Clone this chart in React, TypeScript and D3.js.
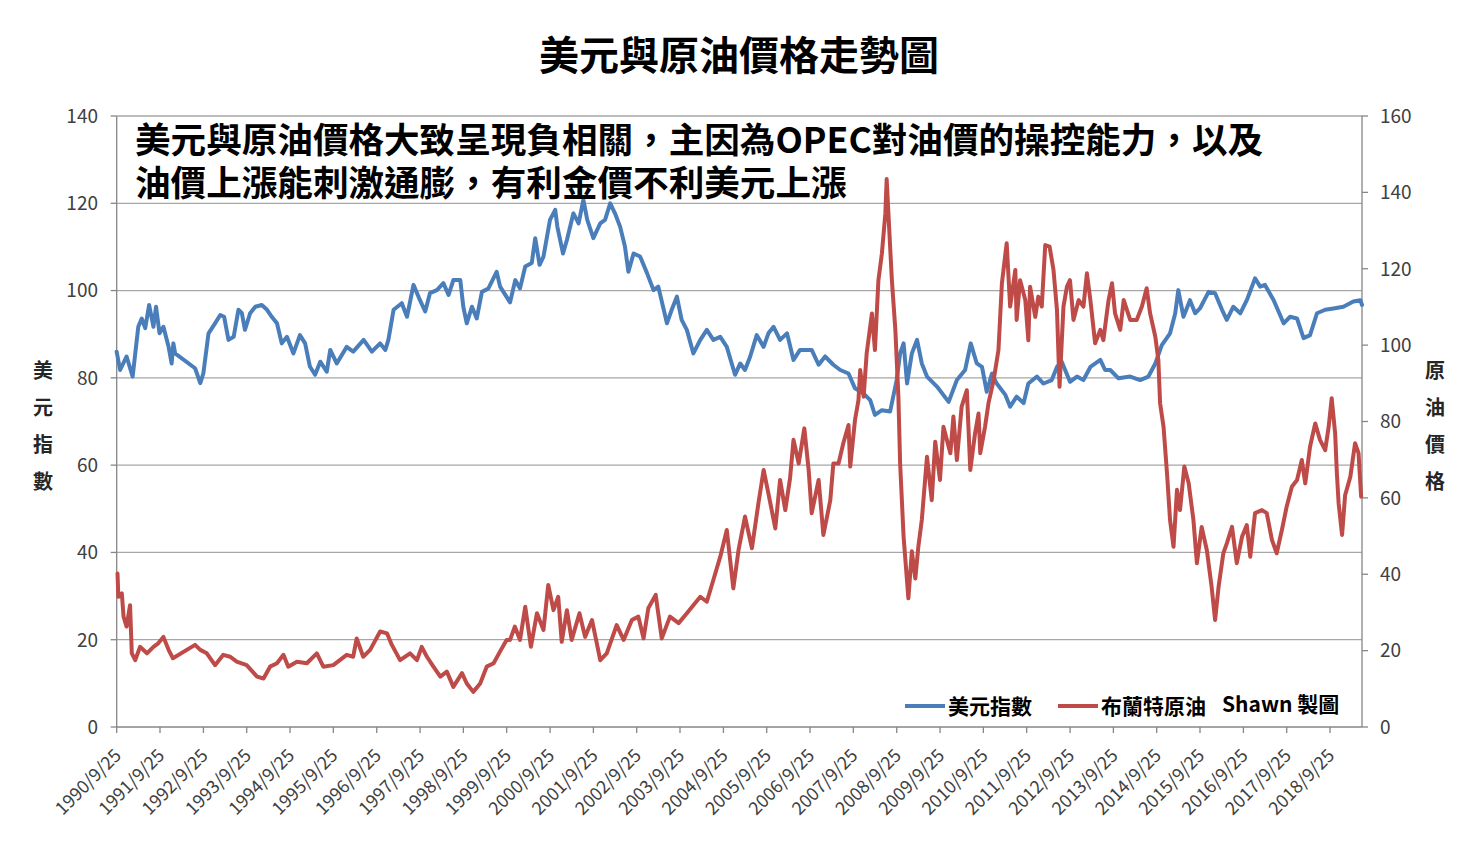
import { useEffect, useRef } from "react";
import * as d3 from "d3";

// 美元指數 (decimal year, value)
const usdYears = [
  1990.73, 1990.81, 1990.96, 1991.1, 1991.23, 1991.31, 1991.39, 1991.48, 1991.58, 1991.64,
  1991.72, 1991.81, 1991.93, 1992.0, 1992.04, 1992.08, 1992.54, 1992.66, 1992.73, 1992.85,
  1993.0, 1993.12, 1993.21, 1993.31, 1993.43, 1993.54, 1993.62, 1993.69, 1993.81, 1993.93,
  1994.08, 1994.2, 1994.31, 1994.43, 1994.54, 1994.66, 1994.81, 1994.96, 1995.08, 1995.19,
  1995.31, 1995.43, 1995.58, 1995.66, 1995.81, 1996.04, 1996.19, 1996.43, 1996.62, 1996.81,
  1996.93, 1997.0, 1997.12, 1997.31, 1997.43, 1997.58, 1997.73, 1997.85, 1997.96, 1998.12,
  1998.27, 1998.39, 1998.5, 1998.66, 1998.73, 1998.81, 1998.93, 1999.04, 1999.16, 1999.31,
  1999.5, 1999.58, 1999.81, 1999.93, 2000.04, 2000.16, 2000.31, 2000.39, 2000.49, 2000.58,
  2000.73, 2000.85, 2000.9, 2001.03, 2001.12, 2001.27, 2001.39, 2001.5, 2001.59, 2001.73,
  2001.89, 2002.0, 2002.12, 2002.23, 2002.35, 2002.46, 2002.54, 2002.66, 2002.81, 2002.97,
  2003.12, 2003.23, 2003.43, 2003.54, 2003.66, 2003.77, 2003.89, 2004.04, 2004.2, 2004.35,
  2004.5, 2004.66, 2004.81, 2005.0, 2005.12, 2005.23, 2005.35, 2005.5, 2005.66, 2005.77,
  2005.89, 2006.04, 2006.2, 2006.35, 2006.5, 2006.77, 2006.93, 2007.08, 2007.27, 2007.43,
  2007.62, 2007.77, 2007.97, 2008.12, 2008.23, 2008.39, 2008.58, 2008.73, 2008.81, 2008.89,
  2008.97, 2009.08, 2009.2, 2009.31, 2009.43, 2009.66, 2009.93, 2010.12, 2010.31, 2010.44,
  2010.58, 2010.7, 2010.81, 2010.93, 2011.04, 2011.24, 2011.35, 2011.5, 2011.66, 2011.77,
  2011.97, 2012.12, 2012.31, 2012.43, 2012.54, 2012.73, 2012.89, 2013.04, 2013.2, 2013.43,
  2013.54, 2013.66, 2013.85, 2014.12, 2014.35, 2014.54, 2014.7, 2014.85, 2015.04, 2015.16,
  2015.23, 2015.35, 2015.5, 2015.62, 2015.73, 2015.93, 2016.08, 2016.24, 2016.35, 2016.5,
  2016.66, 2016.81, 2017.0, 2017.12, 2017.23, 2017.43, 2017.66, 2017.81, 2017.97, 2018.12,
  2018.27, 2018.43, 2018.62, 2018.81, 2019.04, 2019.27, 2019.43, 2019.47,
];
const usdValues = [
  86.0, 81.8, 84.9, 80.3, 91.7, 93.6, 91.4, 96.7, 91.7, 96.3,
  90.2, 91.7, 87.1, 83.3, 87.9, 85.6, 82.2, 78.8, 81.0, 90.2,
  92.5, 94.4, 94.0, 88.7, 89.4, 95.6, 94.8, 91.0, 94.8, 96.3,
  96.7, 95.6, 94.0, 92.5, 87.9, 89.4, 85.6, 89.8, 87.9, 82.6,
  80.7, 83.7, 81.4, 86.4, 83.3, 87.1, 86.0, 88.7, 86.0, 87.9,
  86.4, 88.7, 95.6, 97.1, 94.0, 101.3, 97.8, 95.2, 99.4, 100.1,
  101.7, 99.0, 102.4, 102.4, 96.3, 92.5, 96.3, 93.6, 99.7, 100.5,
  104.3, 100.9, 97.3, 102.4, 100.5, 105.5, 106.3, 112.0, 105.9, 107.8,
  116.2, 118.5, 114.6, 108.5, 111.6, 117.7, 115.4, 120.8, 116.2, 112.0,
  115.4, 116.2, 120.0, 117.7, 114.6, 110.1, 104.3, 108.5, 107.8, 104.0,
  100.1, 100.9, 92.5, 95.6, 98.6, 93.3, 91.0, 85.6, 88.7, 91.0,
  88.7, 89.4, 87.1, 80.7, 83.3, 81.8, 84.9, 89.8, 87.1, 90.2,
  91.7, 88.7, 90.2, 84.1, 86.4, 86.4, 83.0, 84.9, 83.0, 81.8,
  81.0, 77.6, 76.4, 74.9, 71.5, 72.6, 72.3, 79.5, 85.6, 87.9,
  78.7, 85.6, 88.7, 83.3, 80.3, 78.0, 74.5, 79.5, 81.8, 87.9,
  83.3, 82.5, 76.8, 81.0, 78.7, 76.1, 73.4, 75.7, 74.2, 78.7,
  80.3, 78.7, 79.5, 82.5, 83.7, 79.1, 80.3, 79.5, 82.5, 84.1,
  81.8, 81.8, 79.9, 80.3, 79.5, 80.3, 83.3, 87.5, 90.2, 94.8,
  100.1, 94.0, 97.8, 94.8, 95.9, 99.7, 99.4, 95.6, 93.3, 96.3,
  94.8, 97.8, 102.8, 100.9, 101.3, 97.8, 92.5, 94.0, 93.6, 89.1,
  89.8, 94.8, 95.6, 95.9, 96.3, 97.5, 97.8, 96.7,
];

// 布蘭特原油 (decimal year, value)
const oilYears = [
  1990.75, 1990.77, 1990.85, 1990.89, 1990.96, 1991.04, 1991.08, 1991.16, 1991.27, 1991.43,
  1991.58, 1991.69, 1991.81, 1991.93, 1992.03, 1992.54, 1992.66, 1992.81, 1993.0, 1993.19,
  1993.35, 1993.5, 1993.73, 1993.97, 1994.12, 1994.27, 1994.43, 1994.58, 1994.69, 1994.89,
  1995.12, 1995.35, 1995.5, 1995.73, 1996.04, 1996.19, 1996.27, 1996.42, 1996.58, 1996.81,
  1996.97, 1997.08, 1997.27, 1997.5, 1997.66, 1997.77, 1997.89, 1998.04, 1998.2, 1998.35,
  1998.5, 1998.7, 1998.81, 1998.96, 1999.12, 1999.27, 1999.43, 1999.58, 1999.73, 1999.81,
  1999.92, 2000.04, 2000.16, 2000.29, 2000.43, 2000.58, 2000.69, 2000.81, 2000.92, 2001.0,
  2001.12, 2001.23, 2001.41, 2001.54, 2001.7, 2001.89, 2002.04, 2002.27, 2002.43, 2002.62,
  2002.77, 2002.89, 2003.0, 2003.17, 2003.31, 2003.5, 2003.7, 2003.89, 2004.04, 2004.2,
  2004.35, 2004.5, 2004.66, 2004.81, 2004.96, 2005.08, 2005.23, 2005.39, 2005.54, 2005.66,
  2005.77, 2005.93, 2006.04, 2006.16, 2006.27, 2006.35, 2006.47, 2006.6, 2006.7, 2006.77,
  2006.93, 2007.04, 2007.2, 2007.27, 2007.39, 2007.5, 2007.62, 2007.66, 2007.77, 2007.85,
  2007.89, 2007.97, 2008.04, 2008.16, 2008.23, 2008.31, 2008.39, 2008.47, 2008.5, 2008.56,
  2008.62, 2008.7, 2008.77, 2008.81, 2008.89, 2009.0, 2009.08, 2009.16, 2009.23, 2009.31,
  2009.43, 2009.54, 2009.62, 2009.73, 2009.81, 2009.97, 2010.04, 2010.12, 2010.23, 2010.35,
  2010.43, 2010.54, 2010.62, 2010.66, 2010.77, 2010.85, 2010.97, 2011.08, 2011.16, 2011.27,
  2011.35, 2011.47, 2011.5, 2011.58, 2011.7, 2011.77, 2011.81, 2011.93, 2012.0, 2012.08,
  2012.16, 2012.26, 2012.35, 2012.43, 2012.49, 2012.58, 2012.66, 2012.73, 2012.81, 2012.93,
  2013.04, 2013.12, 2013.2, 2013.31, 2013.43, 2013.5, 2013.62, 2013.7, 2013.77, 2013.89,
  2013.97, 2014.12, 2014.27, 2014.39, 2014.5, 2014.58, 2014.7, 2014.77, 2014.81, 2014.89,
  2014.97, 2015.04, 2015.12, 2015.2, 2015.27, 2015.37, 2015.47, 2015.58, 2015.66, 2015.77,
  2015.89, 2016.0, 2016.08, 2016.16, 2016.27, 2016.35, 2016.47, 2016.58, 2016.7, 2016.81,
  2016.89, 2017.0, 2017.16, 2017.27, 2017.39, 2017.5, 2017.62, 2017.73, 2017.85, 2017.97,
  2018.08, 2018.16, 2018.27, 2018.39, 2018.5, 2018.62, 2018.7, 2018.77, 2018.85, 2018.89,
  2018.93, 2019.01, 2019.08, 2019.2, 2019.31, 2019.39, 2019.45,
];
const oilValues = [
  40.2, 34.1, 35.0, 28.9, 26.3, 31.9, 19.3, 17.5, 21.0, 19.3,
  21.0, 21.9, 23.6, 20.2, 18.0, 21.5, 20.2, 19.3, 16.2, 18.9,
  18.4, 17.1, 16.2, 13.2, 12.7, 15.8, 16.7, 18.9, 15.8, 17.1,
  16.7, 19.3, 15.8, 16.2, 18.9, 18.4, 23.2, 18.4, 20.2, 25.0,
  24.5, 21.5, 17.5, 19.3, 17.5, 21.0, 18.4, 15.8, 13.2, 14.5,
  10.5, 14.1, 11.4, 9.2, 11.4, 15.8, 16.7, 19.8, 22.8, 22.8,
  26.3, 22.8, 31.5, 21.0, 29.8, 25.4, 37.2, 30.6, 34.1, 22.3,
  30.6, 22.8, 29.8, 23.6, 28.0, 17.5, 19.3, 26.7, 22.8, 28.0,
  28.9, 23.2, 31.1, 34.6, 23.2, 28.9, 27.2, 29.8, 31.9, 34.1,
  32.8, 38.5, 44.6, 51.6, 36.3, 46.3, 55.1, 46.8, 58.6, 67.3,
  61.2, 52.0, 64.7, 56.8, 65.1, 75.2, 69.0, 78.2, 67.3, 56.0,
  64.7, 50.3, 59.4, 69.0, 69.0, 74.3, 79.1, 68.2, 80.4, 85.6,
  93.5, 86.5, 97.9, 108.3, 98.7, 117.0, 124.0, 134.5, 143.5, 130.1,
  117.0, 104.0, 86.5, 69.0, 49.8, 33.7, 46.0, 38.9, 47.2, 54.2,
  70.8, 59.4, 74.7, 64.7, 78.6, 71.7, 81.3, 69.9, 83.9, 88.2,
  67.3, 76.9, 82.1, 71.7, 78.6, 84.8, 90.9, 98.7, 116.2, 126.7,
  110.1, 119.7, 106.6, 117.0, 111.8, 101.3, 115.3, 107.4, 112.7, 110.1,
  126.2, 125.8, 119.7, 109.2, 89.1, 110.1, 115.3, 117.0, 106.6, 111.8,
  110.1, 118.8, 111.8, 100.5, 104.0, 101.3, 111.8, 116.2, 108.3, 104.0,
  111.8, 106.6, 106.6, 110.1, 114.9, 108.3, 102.2, 96.1, 84.8, 78.6,
  66.4, 54.2, 47.2, 62.1, 56.8, 68.2, 63.8, 54.2, 42.9, 52.4,
  46.3, 36.7, 28.0, 36.7, 45.5, 48.1, 52.4, 42.9, 49.8, 52.9,
  44.6, 56.0, 56.8, 56.0, 49.0, 45.5, 51.6, 57.7, 62.9, 64.7,
  69.9, 63.8, 73.4, 79.5, 75.2, 72.5, 78.6, 86.1, 76.9, 66.4,
  58.6, 50.3, 60.7, 65.5, 74.3, 71.7, 60.3,
];

const leftTicks = [0, 20, 40, 60, 80, 100, 120, 140];
const rightTicks = [0, 20, 40, 60, 80, 100, 120, 140, 160];
const tickYears = d3.range(1990, 2019);
const tickLabels = tickYears.map((y) => `${y}/9/25`);

const FONT = "'Noto Sans CJK TC', 'Noto Sans', sans-serif";
const BLUE = "#4a7ebb";
const RED = "#be4b48";

function toDate(t: number) {
  const y = Math.floor(t);
  const a = new Date(y, 0, 1).getTime();
  const b = new Date(y + 1, 0, 1).getTime();
  return new Date(a + (t - y) * (b - a));
}

export default function App() {
  const svgRef = useRef<SVGSVGElement>(null);

  useEffect(() => {
    if (!svgRef.current) return;
    const svg = d3.select(svgRef.current);
    svg.selectAll("*").remove();

    const left = 116.7;
    const right = 1362;
    const top = 116;
    const bottom = 727;

    const x = d3
      .scaleTime()
      .domain([new Date(1990, 8, 25), toDate(2019.47)])
      .range([left, right]);
    const yL = d3.scaleLinear().domain([0, 140]).range([bottom, top]);
    const yR = d3.scaleLinear().domain([0, 160]).range([bottom, top]);

    // titre
    svg
      .append("text")
      .attr("x", 739)
      .attr("y", 70)
      .attr("text-anchor", "middle")
      .style("font-family", FONT)
      .style("font-size", "40px")
      .style("font-weight", 700)
      .text("美元與原油價格走勢圖");

    // grille
    svg
      .append("g")
      .selectAll("line")
      .data(leftTicks.filter((d) => d > 0))
      .enter()
      .append("line")
      .attr("x1", left)
      .attr("x2", right)
      .attr("y1", (d) => yL(d))
      .attr("y2", (d) => yL(d))
      .attr("stroke", "#a6a6a6")
      .attr("stroke-width", 1.3);

    // axe gauche
    const gl = svg.append("g");
    gl.append("line")
      .attr("x1", left).attr("x2", left)
      .attr("y1", top).attr("y2", bottom)
      .attr("stroke", "#868686").attr("stroke-width", 1.3);
    gl.selectAll(".t")
      .data(leftTicks)
      .enter()
      .append("line")
      .attr("x1", left - 6).attr("x2", left)
      .attr("y1", (d) => yL(d)).attr("y2", (d) => yL(d))
      .attr("stroke", "#868686").attr("stroke-width", 1.3);
    gl.selectAll("text")
      .data(leftTicks)
      .enter()
      .append("text")
      .attr("x", 98)
      .attr("y", (d) => yL(d))
      .attr("dy", "0.36em")
      .attr("text-anchor", "end")
      .style("font-family", FONT)
      .style("font-size", "19px")
      .style("fill", "#404040")
      .text((d) => d);

    // axe droit
    const gr = svg.append("g");
    gr.append("line")
      .attr("x1", right).attr("x2", right)
      .attr("y1", top).attr("y2", bottom)
      .attr("stroke", "#868686").attr("stroke-width", 1.3);
    gr.selectAll(".t")
      .data(rightTicks)
      .enter()
      .append("line")
      .attr("x1", right).attr("x2", right + 6)
      .attr("y1", (d) => yR(d)).attr("y2", (d) => yR(d))
      .attr("stroke", "#868686").attr("stroke-width", 1.3);
    gr.selectAll("text")
      .data(rightTicks)
      .enter()
      .append("text")
      .attr("x", 1380)
      .attr("y", (d) => yR(d))
      .attr("dy", "0.36em")
      .style("font-family", FONT)
      .style("font-size", "19px")
      .style("fill", "#404040")
      .text((d) => d);

    // axe x
    const gx = svg.append("g");
    gx.append("line")
      .attr("x1", left).attr("x2", right)
      .attr("y1", bottom).attr("y2", bottom)
      .attr("stroke", "#868686").attr("stroke-width", 1.3);
    gx.selectAll(".t")
      .data(tickYears)
      .enter()
      .append("line")
      .attr("x1", (d) => x(new Date(d, 8, 25)))
      .attr("x2", (d) => x(new Date(d, 8, 25)))
      .attr("y1", bottom).attr("y2", bottom + 6)
      .attr("stroke", "#868686").attr("stroke-width", 1.3);
    gx.selectAll("text")
      .data(tickYears)
      .enter()
      .append("text")
      .attr("transform", (d) => `translate(${x(new Date(d, 8, 25)) + 1},${bottom + 25}) rotate(-45)`)
      .attr("dy", "0.36em")
      .attr("text-anchor", "end")
      .style("font-family", FONT)
      .style("font-size", "18px")
      .style("fill", "#404040")
      .text((_d, i) => tickLabels[i]);

    // titres des axes (verticaux)
    const axisTitle = (chars: string, cx: number) => {
      svg
        .append("g")
        .selectAll("text")
        .data(chars.split(""))
        .enter()
        .append("text")
        .attr("x", cx)
        .attr("y", (_d, i) => 371 + i * 37)
        .attr("dy", "0.36em")
        .attr("text-anchor", "middle")
        .style("font-family", FONT)
        .style("font-size", "20px")
        .style("font-weight", 700)
        .style("fill", "#262626")
        .text((d) => d);
    };
    axisTitle("美元指數", 43);
    axisTitle("原油價格", 1435);

    // courbes
    const usd = usdYears.map((t, i) => [toDate(t), usdValues[i]] as [Date, number]);
    const oil = oilYears.map((t, i) => [toDate(t), oilValues[i]] as [Date, number]);

    const lineL = d3.line<[Date, number]>().x((d) => x(d[0])).y((d) => yL(d[1]));
    const lineR = d3.line<[Date, number]>().x((d) => x(d[0])).y((d) => yR(d[1]));

    svg.append("path")
      .datum(usd)
      .attr("d", lineL)
      .attr("fill", "none")
      .attr("stroke", BLUE)
      .attr("stroke-width", 4)
      .attr("stroke-linejoin", "round")
      .attr("stroke-linecap", "round");
    svg.append("path")
      .datum(oil)
      .attr("d", lineR)
      .attr("fill", "none")
      .attr("stroke", RED)
      .attr("stroke-width", 4)
      .attr("stroke-linejoin", "round")
      .attr("stroke-linecap", "round");

    // annotation
    const note = svg
      .append("text")
      .style("font-family", FONT)
      .style("font-size", "35.6px")
      .style("font-weight", 700)
      .style("fill", "#000");
    note.append("tspan").attr("x", 135).attr("y", 153)
      .text("美元與原油價格大致呈現負相關，主因為OPEC對油價的操控能力，以及");
    note.append("tspan").attr("x", 135).attr("y", 196)
      .text("油價上漲能刺激通膨，有利金價不利美元上漲");

    // légende
    const legend = [
      { label: "美元指數", color: BLUE, x: 905 },
      { label: "布蘭特原油", color: RED, x: 1058 },
    ];
    const lg = svg.append("g");
    legend.forEach((d) => {
      lg.append("line")
        .attr("x1", d.x).attr("x2", d.x + 40)
        .attr("y1", 706).attr("y2", 706)
        .attr("stroke", d.color).attr("stroke-width", 4);
      lg.append("text")
        .attr("x", d.x + 43)
        .attr("y", 706)
        .attr("dy", "0.36em")
        .style("font-family", FONT)
        .style("font-size", "21px")
        .style("font-weight", 700)
        .text(d.label);
    });
    lg.append("text")
      .attr("x", 1222)
      .attr("y", 704)
      .attr("dy", "0.36em")
      .style("font-family", FONT)
      .style("font-size", "21px")
      .style("font-weight", 700)
      .text("Shawn 製圖");
  }, []);

  return (
    <>
      <style>{"body{margin:0;background:#fff}"}</style>
      <svg ref={svgRef} width={1478} height={855} style={{ display: "block" }} />
    </>
  );
}
